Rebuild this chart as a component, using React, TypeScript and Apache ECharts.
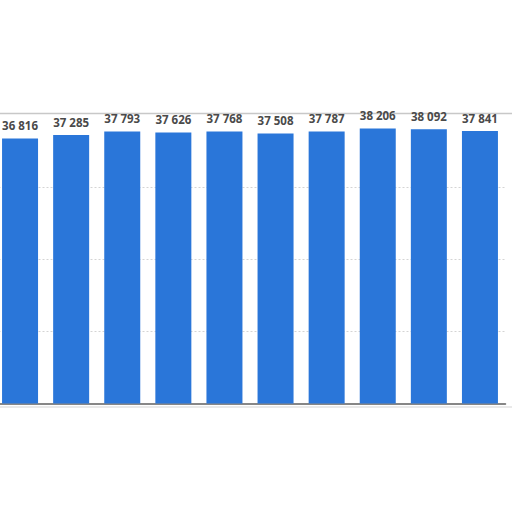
import React, { useEffect, useRef } from 'react';
import * as echarts from 'echarts';

// categories are cut off in the picture, so the labels stay hidden
const categories = ['2010', '2011', '2012', '2013', '2014', '2015', '2016', '2017', '2018', '2019'];
const values = [36816, 37285, 37793, 37626, 37768, 37508, 37787, 38206, 38092, 37841];
const yTicks = [0, 10000, 20000, 30000, 40000];

const formatNumber = (v: number) => String(v).replace(/\B(?=(\d{3})+(?!\d))/g, ' ');

const App: React.FC = () => {
  const chartRef = useRef<HTMLDivElement>(null);

  useEffect(() => {
    if (!chartRef.current) return;
    const chart = echarts.init(chartRef.current, undefined, { renderer: 'svg' });

    // the chart is cropped on the left, so the container starts 6px off-page
    chart.setOption({
      animation: false,
      backgroundColor: '#ffffff',
      grid: {
        left: 0.5,
        right: 6.5,
        top: 115.5,
        bottom: 108.5,
        containLabel: false
      },
      graphic: [
        {
          type: 'line',
          shape: { x1: 0, y1: 113.5, x2: 518, y2: 113.5 },
          style: { stroke: '#c8c8c8', lineWidth: 1.5 }
        },
        {
          type: 'line',
          shape: { x1: 0, y1: 407, x2: 518, y2: 407 },
          style: { stroke: '#e2e2e2', lineWidth: 1.5 }
        }
      ],
      xAxis: {
        type: 'category',
        data: categories,
        axisLine: { lineStyle: { color: '#5f5f5f', width: 1.5 } },
        axisTick: { show: false },
        axisLabel: { show: false }
      },
      yAxis: {
        type: 'value',
        min: yTicks[0],
        max: yTicks[yTicks.length - 1],
        interval: 10000,
        axisLabel: { show: false },
        axisLine: { show: false },
        axisTick: { show: false },
        splitLine: {
          showMinLine: false,
          showMaxLine: false,
          lineStyle: { color: '#d4d4d4', type: [2, 2], width: 1 }
        }
      },
      series: [
        {
          type: 'bar',
          data: values,
          barWidth: 36,
          itemStyle: { color: '#2a76d9' },
          label: {
            show: true,
            position: 'top',
            distance: 7,
            color: '#4a4a4a',
            fontWeight: 'bold',
            fontSize: 11.5,
            fontFamily: 'Open Sans, sans-serif',
            formatter: (p: { value: number }) => formatNumber(p.value)
          }
        }
      ]
    });

    return () => {
      chart.dispose();
    };
  }, []);

  return (
    <div
      ref={chartRef}
      style={{ position: 'absolute', left: '-6px', top: 0, width: '518px', height: '512px' }}
    ></div>
  );
};

export default App;
